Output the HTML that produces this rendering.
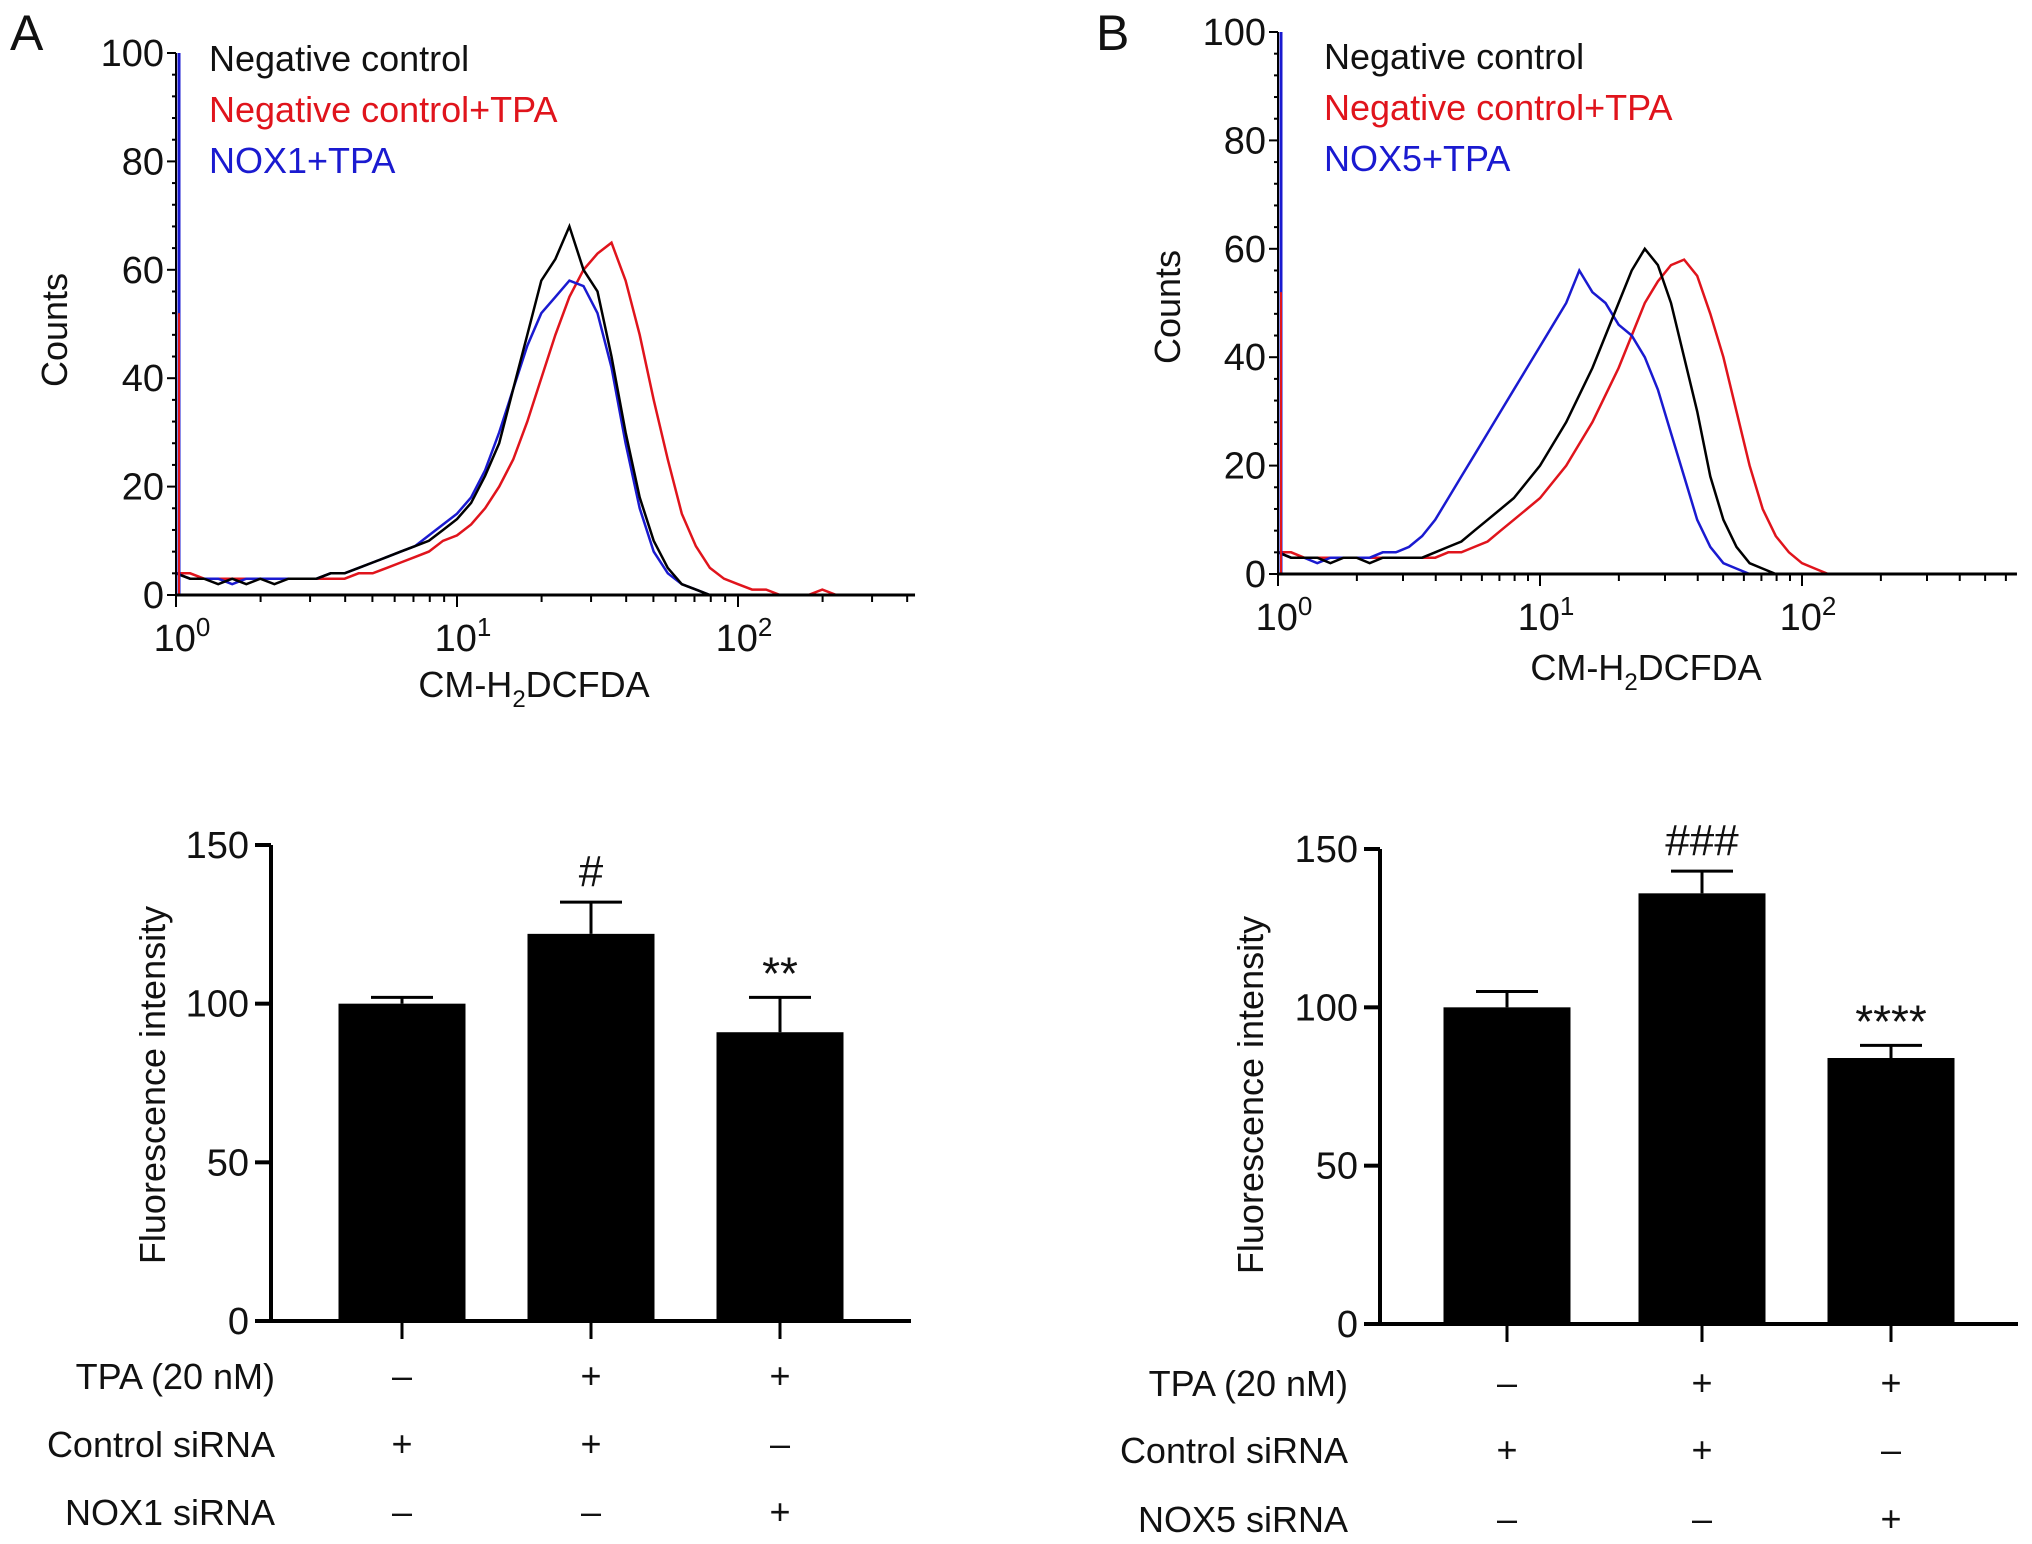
<!DOCTYPE html>
<html><head><meta charset="utf-8"><style>
html,body{margin:0;padding:0;background:#fff;}
svg{display:block;font-family:"Liberation Sans",Arial,sans-serif;}
</style></head><body>
<svg id="fig" width="2032" height="1544" viewBox="0 0 2032 1544" xmlns="http://www.w3.org/2000/svg"></svg>
<script>
// ---- Histogram data (log10 x from 0 in steps of 0.05) ----
const histStep = 0.05;
const aBlack = [4,3,3,2,3,2,3,2,3,3,3,4,4,5,6,7,8,9,10,12,14,17,22,28,38,48,58,62,68,60,56,44,30,18,10,5,2,1,0];
const aRed   = [4,4,3,3,3,3,3,3,3,3,3,3,3,4,4,5,6,7,8,10,11,13,16,20,25,32,40,48,55,60,63,65,58,48,36,25,15,9,5,3,2,1,1,0,0,0,1,0];
const aBlue  = [4,3,3,3,2,3,3,3,3,3,3,4,4,5,6,7,8,9,11,13,15,18,23,30,38,46,52,55,58,57,52,42,28,16,8,4,2,1,0];
const bBlack = [4,3,3,3,2,3,3,2,3,3,3,3,4,5,6,8,10,12,14,17,20,24,28,33,38,44,50,56,60,57,50,40,30,18,10,5,2,1,0];
const bRed   = [4,4,3,3,3,3,3,3,3,3,3,3,3,4,4,5,6,8,10,12,14,17,20,24,28,33,38,44,50,54,57,58,55,48,40,30,20,12,7,4,2,1,0];
const bBlue  = [4,3,3,2,3,3,3,3,4,4,5,7,10,14,18,22,26,30,34,38,42,46,50,56,52,50,46,44,40,34,26,18,10,5,2,1,0];
const histTicksY = [0,20,40,60,80,100];
const legendA = ["Negative control","Negative control+TPA","NOX1+TPA"];
const legendB = ["Negative control","Negative control+TPA","NOX5+TPA"];
// ---- Bar data ----
const barVals1 = [100,122,91];
const barErr1  = [102,132,102];
const barVals2 = [100,136,84];
const barErr2  = [105,143,88];
const barTicks = [0,50,100,150];
const sig1 = ["","#","**"];
const sig2 = ["","###","****"];
const tpaRow = ["–","+","+"];
const ctrlRow = ["+","+","–"];
const noxRow = ["–","–","+"];

const NS="http://www.w3.org/2000/svg";
const svg=document.getElementById('fig');
function el(tag,attrs,parent){const e=document.createElementNS(NS,tag);for(const k in attrs)e.setAttribute(k,attrs[k]);(parent||svg).appendChild(e);return e;}
function txt(s,attrs,parent){const e=el('text',attrs,parent);e.textContent=s;return e;}

function histogram(cfg){
  const g=el('g',{});
  
  
  const X=v=>cfg.x0+v*cfg.dec;
  const Y=c=>cfg.y0-(c/100)*(cfg.y0-cfg.y100);
  const series=[[cfg.red,'#e0141c','red'],[cfg.blue,'#1a1ad0','blue'],[cfg.black,'#000','black']];
  series.forEach(([arr,col,n])=>{
    let pts=arr.map((c,i)=>X(i*histStep).toFixed(1)+','+Y(c).toFixed(1));
    pts.push(X(cfg.xmax).toFixed(1)+','+Y(0).toFixed(1));
    const p=el('polyline',{points:pts.join(' '),fill:'none',stroke:col,'stroke-width':2.5},g);
    
    
  });
  const ya=el('line',{x1:cfg.x0,y1:Y(0),x2:cfg.x0,y2:Y(100),stroke:'#000','stroke-width':2},g);
  
  el('line',{x1:cfg.x0+3,y1:Y(0),x2:cfg.x0+3,y2:Y(100),stroke:'#1a1ad0','stroke-width':3},g);
  el('line',{x1:cfg.x0+3,y1:Y(0),x2:cfg.x0+3,y2:Y(52),stroke:'#e0141c','stroke-width':2},g);
  const xa=el('line',{x1:cfg.x0,y1:Y(0),x2:X(cfg.xmax),y2:Y(0),stroke:'#000','stroke-width':3},g);
  
  for(let c=0;c<=100;c+=4){el('line',{x1:cfg.x0-(c%20==0?9:4),y1:Y(c),x2:cfg.x0,y2:Y(c),stroke:'#000','stroke-width':2},g);}
  histTicksY.forEach(t=>{
    const l=txt(String(t),{x:cfg.x0-12,y:Y(t)+13,'font-size':38,'text-anchor':'end',fill:'#111'},g);
    
  });
  for(let d=0;d<3;d++){for(let m=1;m<=9;m++){const v=d+Math.log10(m);if(v>cfg.xmax)break;
    el('line',{x1:X(v),y1:Y(0),x2:X(v),y2:Y(0)+(m==1?12:7),stroke:'#000','stroke-width':2},g);}}
  [0,1,2].forEach(d=>{
    const t=el('text',{x:X(d)+6,y:Y(0)+56,'font-size':38,'text-anchor':'middle',fill:'#111'},g);
    
    t.innerHTML='10<tspan dy="-15" font-size="26">'+d+'</tspan>';
  });
  const xl=el('text',{x:cfg.xlx,y:cfg.xly,'font-size':36,'text-anchor':'middle',fill:'#111'},g);
  
  xl.innerHTML='CM-H<tspan dy="10" font-size="24">2</tspan><tspan dy="-10">DCFDA</tspan>';
  const yl=txt('Counts',{x:0,y:0,'font-size':36,'text-anchor':'middle',fill:'#111',transform:`translate(${cfg.ylx},${cfg.yly}) rotate(-90)`},g);
  
  const cols=['#111','#e0141c','#1a1ad0'];
  cfg.legend.forEach((s,i)=>{
    const t=txt(s,{x:cfg.lx,y:cfg.ly+i*51,'font-size':36,fill:cols[i]},g);
    
  });
  const pl=txt(cfg.letter,{x:cfg.px,y:cfg.py,'font-size':50,fill:'#111'},g);
  
}

histogram({name:'histogram-a',x0:176,y0:595,y100:53,dec:281,xmax:2.63,black:aBlack,red:aRed,blue:aBlue,
  legend:legendA,lx:209,ly:71,xlx:534,xly:697,ylx:67,yly:330,letter:'A',px:10,py:50});
histogram({name:'histogram-b',x0:1278,y0:574,y100:32,dec:262,xmax:2.82,black:bBlack,red:bRed,blue:bBlue,
  legend:legendB,lx:1324,ly:69,xlx:1646,xly:680,ylx:1180,yly:307,letter:'B',px:1096,py:50});

function barchart(cfg){
  const g=el('g',{});
  
  
  const Y=v=>cfg.y0-(v/150)*(cfg.y0-cfg.y150);
  const bw=127;
  cfg.vals.forEach((v,i)=>{
    const cx=cfg.centers[i];
    const e=el('line',{x1:cx,y1:Y(v),x2:cx,y2:Y(cfg.err[i]),stroke:'#000','stroke-width':3},g);
    
    el('line',{x1:cx-31,y1:Y(cfg.err[i]),x2:cx+31,y2:Y(cfg.err[i]),stroke:'#000','stroke-width':3},g);
    const r=el('rect',{x:cx-bw/2,y:Y(v),width:bw,height:Y(0)-Y(v),fill:'#000'},g);
    
    if(cfg.sig[i]){
      const star=cfg.sig[i][0]=='*';
      const s=txt(cfg.sig[i],{x:cx,y:Y(cfg.err[i])-(star?8:16),'font-size':star?46:44,'text-anchor':'middle',fill:'#111'},g);
      
    }
    el('line',{x1:cx,y1:Y(0),x2:cx,y2:Y(0)+18,stroke:'#000','stroke-width':3},g);
    [cfg.rows[0][i],cfg.rows[1][i],cfg.rows[2][i]].forEach((sym,j)=>{
      const t=txt(sym,{x:cx,y:cfg.rowY[j]+12,'font-size':36,'text-anchor':'middle',fill:'#111'},g);
      
    });
  });
  const ya=el('line',{x1:cfg.x0,y1:Y(0),x2:cfg.x0,y2:Y(150),stroke:'#000','stroke-width':4},g);
  
  const xa=el('line',{x1:cfg.x0-16,y1:Y(0),x2:cfg.xend,y2:Y(0),stroke:'#000','stroke-width':4},g);
  
  barTicks.forEach(t=>{
    el('line',{x1:cfg.x0-16,y1:Y(t),x2:cfg.x0,y2:Y(t),stroke:'#000','stroke-width':4},g);
    const l=txt(String(t),{x:cfg.x0-22,y:Y(t)+13,'font-size':38,'text-anchor':'end',fill:'#111'},g);
    
  });
  const yl=txt('Fluorescence intensity',{x:0,y:0,'font-size':36,'text-anchor':'middle',fill:'#111',transform:`translate(${cfg.ylx},${cfg.yly}) rotate(-90)`},g);
  
  cfg.rowLabels.forEach((s,j)=>{
    const t=txt(s,{x:cfg.rlx,y:cfg.rowY[j]+13,'font-size':36,'text-anchor':'end',fill:'#111'},g);
    
  });
}
barchart({name:'bar-chart-a',x0:271,y0:1321,y150:845,xend:911,centers:[402,591,780],vals:barVals1,err:barErr1,sig:sig1,
  rows:[tpaRow,ctrlRow,noxRow],rowY:[1376,1444,1512],rowLabels:['TPA (20 nM)','Control siRNA','NOX1 siRNA'],rlx:275,ylx:165,yly:1085});
barchart({name:'bar-chart-b',x0:1380,y0:1324,y150:849,xend:2018,centers:[1507,1702,1891],vals:barVals2,err:barErr2,sig:sig2,
  rows:[tpaRow,ctrlRow,noxRow],rowY:[1383,1450,1519],rowLabels:['TPA (20 nM)','Control siRNA','NOX5 siRNA'],rlx:1348,ylx:1263,yly:1095});
</script>
</body></html>
